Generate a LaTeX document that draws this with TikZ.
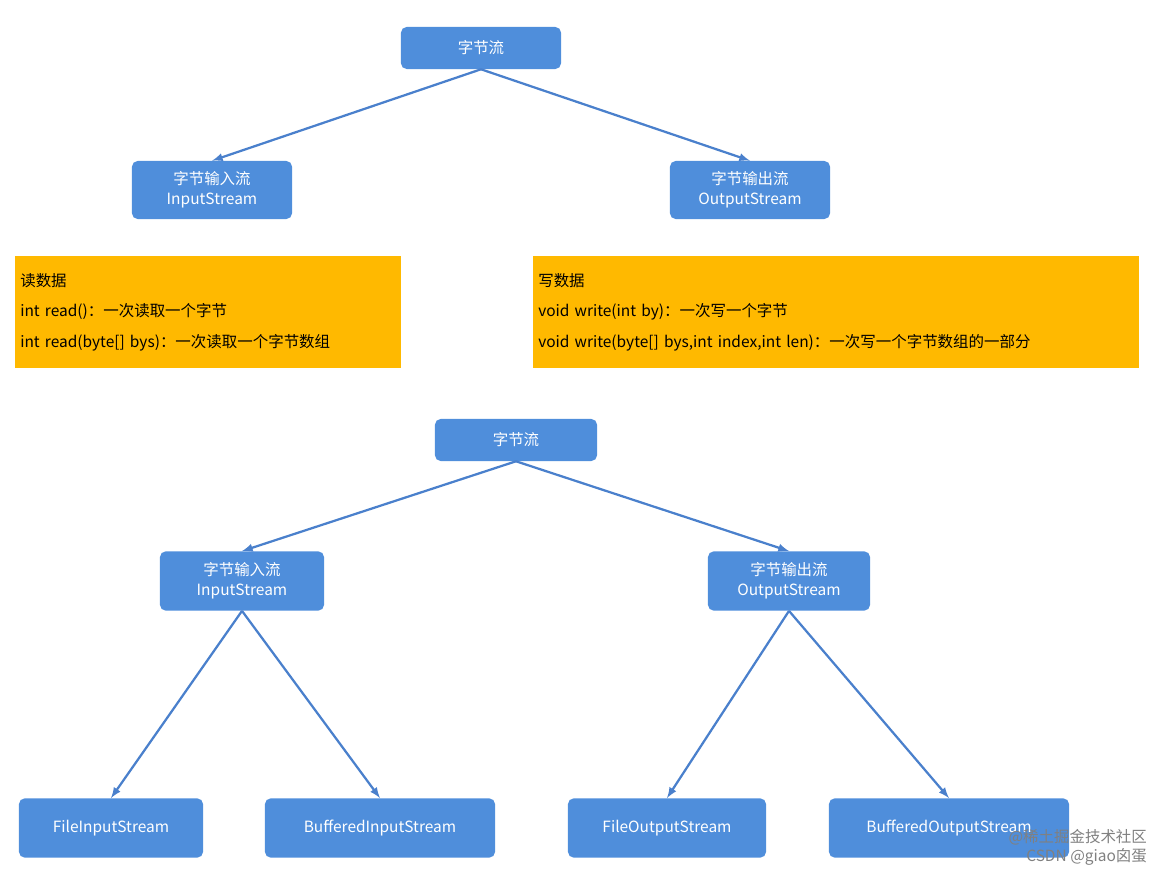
\documentclass[tikz,border=0pt]{standalone}
\usepackage{fontspec}
\setmainfont{Noto Sans CJK SC}
\definecolor{boxblue}{HTML}{4F8EDB}
\definecolor{lineblue}{HTML}{4A80CC}
\definecolor{noteorange}{HTML}{FFB900}
\begin{document}
\begin{tikzpicture}[x=0.025cm, y=-0.025cm]
  \tikzset{ block/.style={rectangle,fill=boxblue,rounded corners=4pt,text=white,align=center,font=\fontsize{11}{14}\selectfont,inner sep=0pt},
          note/.style={rectangle,fill=noteorange,align=left,anchor=north west,font=\fontsize{11}{22}\selectfont,inner sep=3pt},
          arrow/.style={-latex, line width=1.6pt, draw=lineblue}}
  \useasboundingbox (0,0) rectangle (1160,872);
  % upper picture
  \node[block, minimum width=4cm, minimum height=1.05cm] (root) at (481,48) {字节流};
  \node[block, minimum width=4cm, minimum height=1.45cm] (in) at (212,190) {字节输入流\\InputStream};
  \node[block, minimum width=4cm, minimum height=1.45cm] (out) at (750,190) {字节输出流\\OutputStream};
  \draw[arrow] (root.south) -- (in.north);
  \draw[arrow] (root.south) -- (out.north);
  \node[note, minimum width=9.65cm, minimum height=2.8cm, text width=9.4cm] (read) at (15,256)
    {读数据\\int read()：一次读取一个字节\\int read(byte[] bys)：一次读取一个字节数组};
  \node[note, minimum width=15.15cm, minimum height=2.8cm, text width=14.9cm] (write) at (533,256)
    {写数据\\void write(int by)：一次写一个字节\\void write(byte[] bys,int index,int len)：一次写一个字节数组的一部分};
  % lower picture
  \node[block, minimum width=4.05cm, minimum height=1.05cm] (root2) at (516,440) {字节流};
  \node[block, minimum width=4.1cm, minimum height=1.48cm] (in2) at (242,581) {字节输入流\\InputStream};
  \node[block, minimum width=4.05cm, minimum height=1.48cm] (out2) at (789,581) {字节输出流\\OutputStream};
  \node[block, minimum width=4.6cm, minimum height=1.48cm] (fin) at (111,828) {FileInputStream};
  \node[block, minimum width=5.75cm, minimum height=1.48cm] (bin) at (380,828) {BufferedInputStream};
  \node[block, minimum width=4.95cm, minimum height=1.48cm] (fout) at (667,828) {FileOutputStream};
  \node[block, minimum width=6cm, minimum height=1.48cm] (bout) at (949,828) {BufferedOutputStream};
  \draw[arrow] (root2.south) -- (in2.north);
  \draw[arrow] (root2.south) -- (out2.north);
  \draw[arrow] (in2.south) -- (fin.north);
  \draw[arrow] (in2.south) -- (bin.north);
  \draw[arrow] (out2.south) -- (fout.north);
  \draw[arrow] (out2.south) -- (bout.north);
  \node[anchor=south east, align=right, text=gray, font=\fontsize{11}{13}\selectfont, inner sep=2pt] (mark) at (1150,868)
    {@稀土掘金技术社区\\CSDN @giao囟蛋};
\end{tikzpicture}
\end{document}
